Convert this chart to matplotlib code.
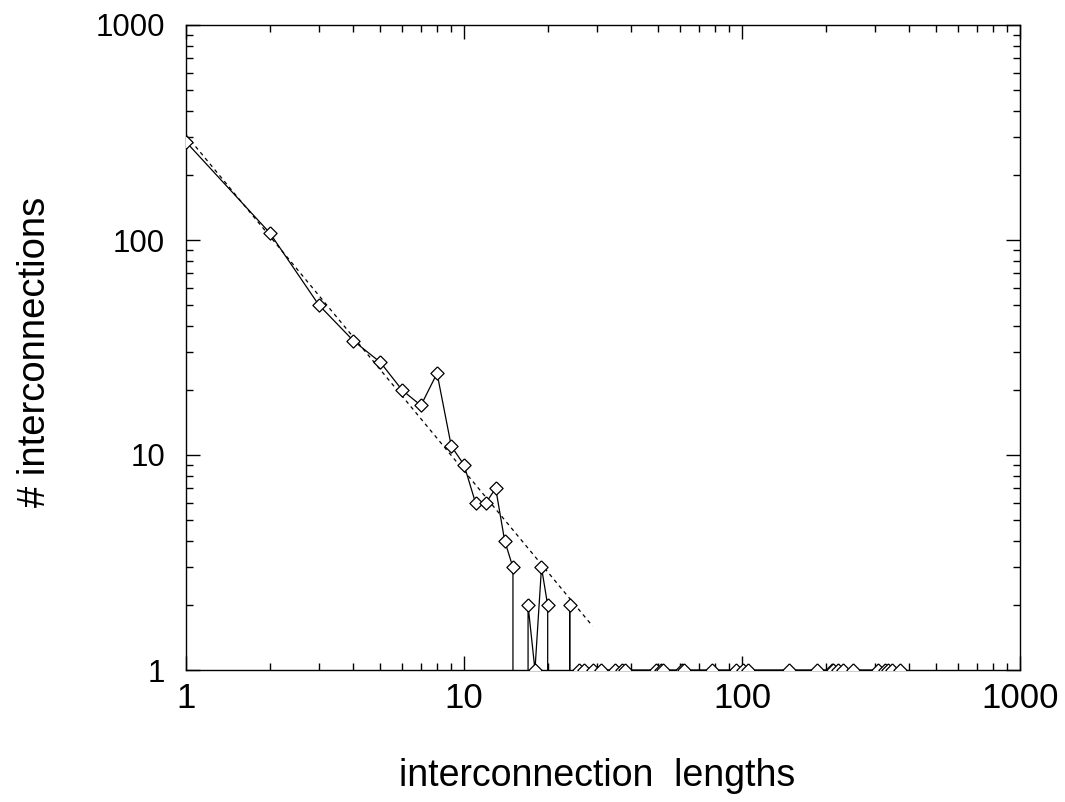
import matplotlib
matplotlib.use("Agg")
import matplotlib.pyplot as plt
from matplotlib.ticker import LogLocator, NullFormatter, FixedLocator, FixedFormatter

plt.rcParams['font.family'] = ['Liberation Sans', 'DejaVu Sans']

# histogram of interconnection lengths (0 = no interconnection of that length)
lengths = [1, 2, 3, 4, 5, 6, 7, 8, 9, 10, 11, 12, 13, 14, 15, 16, 17, 18, 19, 20,
           21, 22, 23, 24, 25,
           26, 27, 29, 31, 35, 37, 38, 49, 51, 52, 61, 62, 78, 95, 101, 105,
           147, 186, 211, 213, 221, 230, 250, 309, 326, 335, 346, 370]
counts = [286, 108, 50, 34, 27, 20, 17, 24, 11, 9, 6, 6, 7, 4, 3, 0, 2, 1, 3, 2,
          0, 0, 0, 2, 0,
          1, 1, 1, 1, 1, 1, 1, 1, 1, 1, 1, 1, 1, 1, 1, 1,
          1, 1, 1, 1, 1, 1, 1, 1, 1, 1, 1, 1]

# power-law fit (dashed), end points
fit_x = [1, 29]
fit_y = [308, 1.6]

tick_vals = [1, 10, 100, 1000]
tick_labels = ['1', '10', '100', '1000']

fig = plt.figure(figsize=(10.65, 8.02), dpi=100)
ax = fig.add_axes([186/1065, 1-670/802, (1020-186)/1065, (670-25)/802])

ax.set_xscale('log')
ax.set_yscale('log')

diamond = [(0, 1), (1, 0), (0, -1), (-1, 0), (0, 1)]

ax.plot(lengths, counts, color='black', lw=0.9, zorder=3)
mx = [x for x, c in zip(lengths, counts) if c > 0]
my = [c for c in counts if c > 0]
ax.plot(mx, my, linestyle='none', marker=diamond, markersize=9.5,
        markerfacecolor='white', markeredgecolor='black', markeredgewidth=0.9, zorder=4)
ax.plot(fit_x, fit_y, color='black', lw=0.9, linestyle=(0, (3, 3)), zorder=2)

ax.set_xlim(1, 1000)
ax.set_ylim(1, 1000)

for axis in (ax.xaxis, ax.yaxis):
    axis.set_major_locator(FixedLocator(tick_vals))
    axis.set_major_formatter(FixedFormatter(tick_labels))
    axis.set_minor_locator(LogLocator(base=10, subs=range(2, 10)))
    axis.set_minor_formatter(NullFormatter())

ax.tick_params(which='both', direction='in', top=True, right=True, width=1.0, colors='black')
ax.tick_params(which='major', length=10)
ax.tick_params(which='minor', length=5)
ax.tick_params(axis='x', which='major', pad=9, labelsize=25)
ax.tick_params(axis='y', which='major', pad=15, labelsize=22.5)

for s in ax.spines.values():
    s.set_linewidth(1.0)

fig.text(597.5/1065, 1-776/802, 'interconnection  lengths', ha='center', va='center', fontsize=27)
fig.text(35/1065, 1-351.5/802, '# interconnections', ha='center', va='center',
         rotation=90, fontsize=27.5)

fig.savefig('out.png', dpi=100)
